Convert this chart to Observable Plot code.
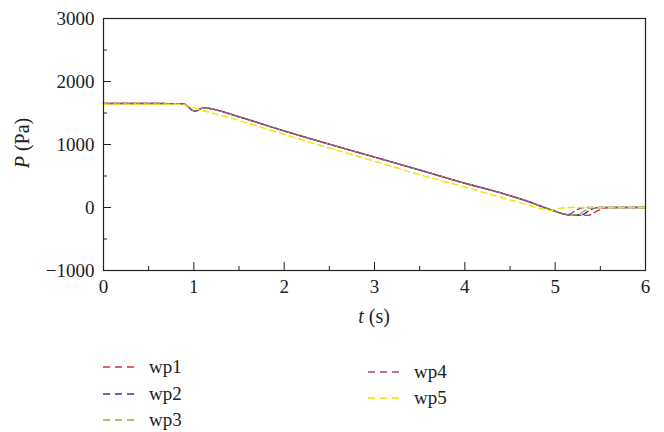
<!DOCTYPE html>
<html><head><meta charset="utf-8">
<script src="https://cdn.jsdelivr.net/npm/d3@7"></script>
<script src="https://cdn.jsdelivr.net/npm/@observablehq/plot@0.6"></script>
<style>
body{margin:0;background:#fff;}
#wrap{position:relative;width:664px;height:432px;font-family:"Liberation Serif","DejaVu Serif",serif;}
#wrap svg{display:block;font-family:"Liberation Serif","DejaVu Serif",serif !important;font-size:19px !important;}
#wrap svg text{font-family:"Liberation Serif","DejaVu Serif",serif !important;}
</style></head><body><div id="wrap"></div>
<script>
// ---- data ----
const seriesNames = ["wp1", "wp2", "wp3", "wp4", "wp5"];
const seriesColors = ["#dc2f2f", "#2b3ba6", "#8db43c", "#9e4088", "#f2e400"];

const tWp1 = [0, 0.5, 0.88, 0.93, 0.98, 1.02, 1.07, 1.12, 1.2, 1.5, 2.0, 2.5, 3.0, 3.5, 4.0, 4.39, 4.7, 4.9, 5.0, 5.1, 5.2, 5.36, 5.47, 5.56, 5.65, 6.0];
const pWp1 = [1650, 1650, 1648, 1610, 1545, 1530, 1565, 1585, 1565, 1440, 1215, 1005, 800, 595, 385, 235, 95, -10, -60, -105, -120, -125, -50, -3, 0, 0];

const tWp2 = [0, 0.5, 0.88, 0.93, 0.98, 1.02, 1.07, 1.12, 1.2, 1.5, 2.0, 2.5, 3.0, 3.5, 4.0, 4.39, 4.7, 4.9, 5.0, 5.1, 5.2, 5.3, 5.37, 5.45, 5.55, 6.0];
const pWp2 = [1650, 1650, 1648, 1610, 1545, 1530, 1565, 1585, 1565, 1440, 1215, 1005, 800, 595, 385, 235, 95, -10, -60, -105, -120, -115, -55, -5, 0, 0];

const tWp3 = [0, 0.5, 0.88, 0.93, 0.98, 1.02, 1.07, 1.12, 1.2, 1.5, 2.0, 2.5, 3.0, 3.5, 4.0, 4.39, 4.7, 4.9, 5.0, 5.1, 5.2, 5.27, 5.33, 5.4, 5.5, 6.0];
const pWp3 = [1650, 1650, 1648, 1610, 1545, 1530, 1565, 1585, 1565, 1440, 1215, 1005, 800, 595, 385, 235, 95, -10, -60, -105, -120, -100, -50, -5, 0, 0];

const tWp4 = [0, 0.5, 0.88, 0.93, 0.98, 1.02, 1.07, 1.12, 1.2, 1.5, 2.0, 2.5, 3.0, 3.5, 4.0, 4.39, 4.7, 4.9, 5.0, 5.1, 5.15, 5.22, 5.3, 5.4, 6.0];
const pWp4 = [1650, 1650, 1648, 1610, 1545, 1530, 1565, 1585, 1565, 1440, 1215, 1005, 800, 595, 385, 235, 95, -10, -60, -105, -110, -55, -5, 0, 0];

const tWp5 = [0, 0.5, 0.85, 0.95, 1.1, 1.37, 2.0, 2.5, 3.0, 3.5, 4.0, 4.39, 4.7, 4.85, 4.95, 5.05, 5.15, 6.0];
const pWp5 = [1640, 1640, 1640, 1605, 1540, 1436, 1160, 945, 735, 520, 325, 164, 40, -20, -45, -12, 0, 0];

const xTicks = [0, 1, 2, 3, 4, 5, 6];
const xMinorTicks = [0.5, 1.5, 2.5, 3.5, 4.5, 5.5];
const yTicks = [-1000, 0, 1000, 2000, 3000];
const yMinorTicks = [-500, 500, 1500, 2500];

const seriesT = [tWp1, tWp2, tWp3, tWp4, tWp5];
const seriesP = [pWp1, pWp2, pWp3, pWp4, pWp5];
const rows = [];
seriesNames.forEach((name, i) => {
  seriesT[i].forEach((t, j) => rows.push({series: name, t, p: seriesP[i][j]}));
});

const fmtY = d => d < 0 ? "\u2212" + Math.abs(d) : String(d);
const dashOffsets = [0, 2, 4, 6, 0];
const FONT = '"Liberation Serif","DejaVu Serif",serif';

const lineMarks = seriesNames.map((name, i) =>
  Plot.line(rows.filter(r => r.series === name), {
    x: "t", y: "p", stroke: seriesColors[i], strokeWidth: 1.4,
    strokeDasharray: "6,4", strokeDashoffset: dashOffsets[i], curve: "monotone-x"
  })
);

const chart = Plot.plot({
  width: 664, height: 340,
  marginLeft: 103, marginRight: 19, marginTop: 18, marginBottom: 70,
  style: {fontFamily: FONT, fontSize: "19px", color: "#222", background: "#fff"},
  x: {domain: [0, 6]},
  y: {domain: [-1000, 3000]},
  marks: [
    ...lineMarks,
    Plot.frame({stroke: "#222", strokeWidth: 1.2}),
    Plot.axisX({ticks: xTicks, tickSize: -8, tickPadding: 17, tickFormat: d => String(d), label: null, stroke: "#222", fill: "#222", fontSize: 19}),
    Plot.axisX({ticks: xMinorTicks, tickSize: -4, text: null, label: null, stroke: "#222"}),
    Plot.axisY({ticks: yTicks, tickSize: -8, tickPadding: 17, tickFormat: fmtY, label: null, stroke: "#222", fill: "#222", fontSize: 19}),
    Plot.axisY({ticks: yMinorTicks, tickSize: -4, text: null, label: null, stroke: "#222"})
  ]
});

const wrap = document.getElementById("wrap");
wrap.appendChild(chart);

const svg = d3.select(chart);
svg.selectAll("text").attr("font-family", FONT);

// axis titles with italic variable
const yl = svg.append("text")
  .attr("transform", "translate(29,143) rotate(-90)")
  .attr("text-anchor", "middle").attr("font-family", FONT).attr("font-weight", "normal")
  .attr("font-size", 20).attr("fill", "#222");
yl.append("tspan").attr("font-style", "italic").text("P");
yl.append("tspan").text(" (Pa)");
const xl = svg.append("text")
  .attr("x", 374).attr("y", 323)
  .attr("text-anchor", "middle").attr("font-family", FONT).attr("font-weight", "normal")
  .attr("font-size", 20).attr("fill", "#222");
xl.append("tspan").attr("font-style", "italic").text("t");
xl.append("tspan").text(" (s)");

// legend below the plot
const legendPos = [
  {x: 103, y: 27}, {x: 103, y: 54}, {x: 103, y: 80},
  {x: 368, y: 32}, {x: 368, y: 58}
];
const leg = d3.select(wrap).append("svg").attr("width", 664).attr("height", 92);
seriesNames.forEach((name, i) => {
  const p = legendPos[i];
  leg.append("line").attr("x1", p.x).attr("x2", p.x + 34).attr("y1", p.y).attr("y2", p.y)
    .attr("stroke", seriesColors[i]).attr("stroke-width", 1.6).attr("stroke-dasharray", "7,5");
  leg.append("text").attr("x", p.x + 46).attr("y", p.y).attr("dy", "0.32em")
    .attr("font-family", FONT).attr("font-size", 19).attr("fill", "#222").text(name);
});
</script>
</body></html>
